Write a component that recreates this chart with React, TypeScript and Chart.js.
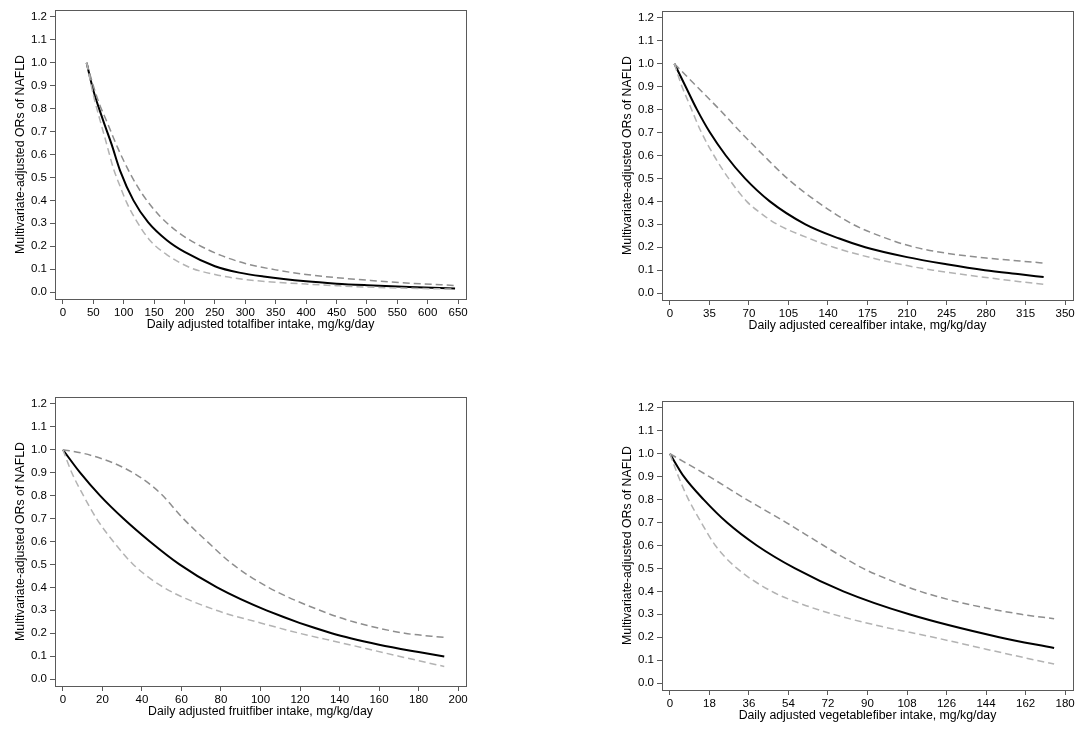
import React, { useEffect, useRef } from 'react';
import { Chart, registerables } from 'chart.js';
Chart.register(...registerables);

// y axis ticks shared by all four panels
const OR_TICKS = [0, 0.1, 0.2, 0.3, 0.4, 0.5, 0.6, 0.7, 0.8, 0.9, 1.0, 1.1, 1.2];

// total fiber: OR curve, upper and lower 95% CI (x, y)
const TOTAL_TICKS = [0, 50, 100, 150, 200, 250, 300, 350, 400, 450, 500, 550, 600, 650];
const TOTAL_OR_X = [39, 50, 66, 80, 94, 116, 140, 171, 200, 250, 290, 330, 400, 450, 500, 570, 645];
const TOTAL_OR_Y = [1.0, 0.88, 0.75, 0.645, 0.53, 0.4, 0.305, 0.226, 0.175, 0.113, 0.085, 0.068, 0.047, 0.037, 0.03, 0.022, 0.016];
const TOTAL_UP_X = [39, 50, 60, 72, 90, 110, 130, 160, 190, 220, 260, 300, 350, 400, 450, 506, 570, 645];
const TOTAL_UP_Y = [1.0, 0.9, 0.82, 0.745, 0.63, 0.52, 0.43, 0.33, 0.26, 0.21, 0.16, 0.125, 0.097, 0.077, 0.063, 0.051, 0.039, 0.029];
const TOTAL_LO_X = [39, 50, 61, 72, 83, 95, 105, 120, 143, 170, 211, 250, 290, 350, 400, 450, 500, 570, 645];
const TOTAL_LO_Y = [1.0, 0.86, 0.75, 0.645, 0.54, 0.455, 0.39, 0.315, 0.226, 0.165, 0.105, 0.077, 0.058, 0.043, 0.035, 0.028, 0.022, 0.017, 0.013];

// cereal fiber
const CEREAL_TICKS = [0, 35, 70, 105, 140, 175, 210, 245, 280, 315, 350];
const CEREAL_OR_X = [4, 14, 24, 35.5, 49.5, 66.5, 88.5, 120, 150, 173, 210, 245, 279, 310, 331];
const CEREAL_OR_Y = [1.0, 0.9, 0.8, 0.7, 0.6, 0.5, 0.4, 0.3, 0.238, 0.2, 0.157, 0.126, 0.1, 0.082, 0.07];
const CEREAL_UP_X = [4, 14, 24, 44, 63, 83, 104, 130, 162, 190, 213, 245, 280, 310, 331];
const CEREAL_UP_Y = [1.0, 0.95, 0.9, 0.8, 0.7, 0.6, 0.5, 0.4, 0.3, 0.242, 0.205, 0.174, 0.153, 0.14, 0.131];
const CEREAL_LO_X = [4, 10, 18, 27, 39, 52, 68, 80, 95, 120, 145, 180, 210, 233, 280, 310, 331];
const CEREAL_LO_Y = [1.0, 0.91, 0.815, 0.71, 0.6, 0.5, 0.4, 0.35, 0.3, 0.245, 0.2, 0.152, 0.12, 0.1, 0.068, 0.05, 0.038];

// fruit fiber
const FRUIT_TICKS = [0, 20, 40, 60, 80, 100, 120, 140, 160, 180, 200];
const FRUIT_OR_X = [0, 8.7, 18.8, 30.6, 44, 59, 78, 103, 136, 160, 180, 193];
const FRUIT_OR_Y = [1.0, 0.9, 0.8, 0.7, 0.6, 0.5, 0.4, 0.3, 0.2, 0.15, 0.118, 0.099];
const FRUIT_UP_X = [0, 10, 20, 30, 40, 50, 60, 73, 86, 104, 130, 147, 173, 193];
const FRUIT_UP_Y = [1.0, 0.985, 0.96, 0.925, 0.875, 0.805, 0.708, 0.6, 0.5, 0.4, 0.3, 0.25, 0.2, 0.182];
const FRUIT_LO_X = [0, 4.5, 10.4, 17, 25.5, 35.6, 51, 77.6, 100, 119.7, 140, 170, 193];
const FRUIT_LO_Y = [1.0, 0.9, 0.8, 0.7, 0.6, 0.5, 0.4, 0.3, 0.245, 0.2, 0.16, 0.1, 0.055];

// vegetable fiber
const VEG_TICKS = [0, 18, 36, 54, 72, 90, 108, 126, 144, 162, 180];
const VEG_OR_X = [0, 6.4, 15.4, 26, 39.6, 57, 79, 109, 150, 175];
const VEG_OR_Y = [1.0, 0.9, 0.8, 0.7, 0.6, 0.5, 0.4, 0.3, 0.2, 0.153];
const VEG_UP_X = [0, 18, 35, 53, 70, 88, 100, 114, 133, 160, 175];
const VEG_UP_Y = [1.0, 0.9, 0.8, 0.7, 0.6, 0.5, 0.45, 0.4, 0.35, 0.3, 0.281];
const VEG_LO_X = [0, 3.5, 8, 14, 20.7, 30.6, 46.4, 60, 74.4, 95, 120, 144, 166.7, 175];
const VEG_LO_Y = [1.0, 0.91, 0.81, 0.705, 0.6, 0.5, 0.4, 0.345, 0.3, 0.25, 0.2, 0.148, 0.1, 0.083];

const FONT = "'Liberation Sans', Arial, sans-serif";
const AXIS_COLOR = '#5a5a5a';

type Pt = { x: number; y: number };

interface Panel {
  left: number;
  top: number;
  xTitle: string;
  xTicks: number[];
  or: Pt[];
  up: Pt[];
  lo: Pt[];
}

const pts = (xs: number[], ys: number[]): Pt[] => xs.map((x, i) => ({ x, y: ys[i] }));

const PANELS: Panel[] = [
  {
    left: 0, top: 0, xTitle: 'Daily adjusted totalfiber intake, mg/kg/day', xTicks: TOTAL_TICKS,
    or: pts(TOTAL_OR_X, TOTAL_OR_Y), up: pts(TOTAL_UP_X, TOTAL_UP_Y), lo: pts(TOTAL_LO_X, TOTAL_LO_Y),
  },
  {
    left: 607, top: 1, xTitle: 'Daily adjusted cerealfiber intake, mg/kg/day', xTicks: CEREAL_TICKS,
    or: pts(CEREAL_OR_X, CEREAL_OR_Y), up: pts(CEREAL_UP_X, CEREAL_UP_Y), lo: pts(CEREAL_LO_X, CEREAL_LO_Y),
  },
  {
    left: 0, top: 387, xTitle: 'Daily adjusted fruitfiber intake, mg/kg/day', xTicks: FRUIT_TICKS,
    or: pts(FRUIT_OR_X, FRUIT_OR_Y), up: pts(FRUIT_UP_X, FRUIT_UP_Y), lo: pts(FRUIT_LO_X, FRUIT_LO_Y),
  },
  {
    left: 607, top: 391, xTitle: 'Daily adjusted vegetablefiber intake, mg/kg/day', xTicks: VEG_TICKS,
    or: pts(VEG_OR_X, VEG_OR_Y), up: pts(VEG_UP_X, VEG_UP_Y), lo: pts(VEG_LO_X, VEG_LO_Y),
  },
];

// box round the plot area (top and right sides are not drawn by the axes)
const frame = {
  id: 'frame',
  afterDraw(chart: Chart) {
    const { ctx, chartArea: a } = chart;
    ctx.save();
    ctx.strokeStyle = AXIS_COLOR;
    ctx.lineWidth = 1;
    ctx.strokeRect(Math.round(a.left) + 0.5, Math.round(a.top) + 0.5, Math.round(a.right - a.left), Math.round(a.bottom - a.top));
    ctx.restore();
  },
};

const SplinePanel = ({ p }: { p: Panel }) => {
  const canvasRef = useRef<HTMLCanvasElement | null>(null);

  useEffect(() => {
    if (!canvasRef.current) return;
    const xMax = p.xTicks[p.xTicks.length - 1];
    const chart = new Chart(canvasRef.current, {
      type: 'line',
      data: {
        datasets: [
          { data: p.lo, borderColor: '#b3b3b3', borderWidth: 1.5, borderDash: [7, 4] },
          { data: p.up, borderColor: '#8e8e8e', borderWidth: 1.5, borderDash: [7, 4] },
          { data: p.or, borderColor: '#000000', borderWidth: 2 },
        ],
      },
      options: {
        animation: false,
        responsive: false,
        devicePixelRatio: 1,
        layout: { padding: { top: 10, right: 14, bottom: 10, left: 0 } },
        elements: {
          point: { radius: 0 },
          line: { cubicInterpolationMode: 'monotone', fill: false },
        },
        plugins: { legend: { display: false }, tooltip: { enabled: false } },
        scales: {
          x: {
            type: 'linear',
            min: -0.02 * xMax,
            max: 1.02 * xMax,
            afterBuildTicks: (s: any) => { s.ticks = p.xTicks.map((v) => ({ value: v })); },
            afterFit: (s: any) => { s.height = 36; },
            grid: { drawOnChartArea: false, drawTicks: true, tickLength: 5, color: AXIS_COLOR },
            border: { display: true, color: AXIS_COLOR },
            ticks: { color: '#000', font: { family: FONT, size: 11.5 }, padding: 2, maxRotation: 0, autoSkip: false, callback: (v: any) => String(v) },
            title: { display: true, text: p.xTitle, color: '#000', font: { family: FONT, size: 12.3 }, padding: { top: 0, bottom: 3 } },
          },
          y: {
            type: 'linear',
            min: -0.03,
            max: 1.23,
            afterBuildTicks: (s: any) => { s.ticks = OR_TICKS.map((v) => ({ value: v })); },
            afterFit: (s: any) => { s.width = 55; },
            grid: { drawOnChartArea: false, drawTicks: true, tickLength: 5, color: AXIS_COLOR },
            border: { display: true, color: AXIS_COLOR },
            ticks: { color: '#000', font: { family: FONT, size: 11.5 }, padding: 3, autoSkip: false, callback: (v: any) => Number(v).toFixed(1) },
            title: { display: true, text: 'Multivariate-adjusted ORs of NAFLD', color: '#000', font: { family: FONT, size: 12.3 }, padding: { top: 13, bottom: 0 } },
          },
        },
      },
      plugins: [frame],
    });
    return () => chart.destroy();
  }, [p]);

  return (
    <canvas
      ref={canvasRef}
      width={480}
      height={345}
      style={{ position: 'absolute', left: p.left, top: p.top, display: 'block' }}
    />
  );
};

const App = () => (
  <div style={{ position: 'absolute', left: 0, top: 0, width: 1084, height: 729, overflow: 'hidden', background: '#fff' }}>
    {PANELS.map((p, i) => <SplinePanel key={i} p={p} />)}
  </div>
);

export default App;
